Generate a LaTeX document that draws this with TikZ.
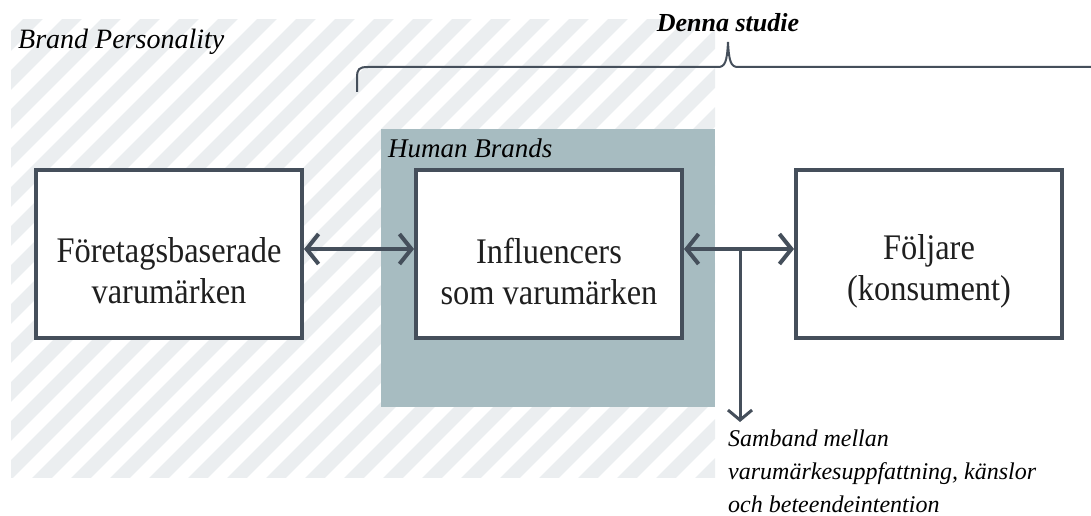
\documentclass[tikz,border=0pt]{standalone}
\usepackage{fontspec}
\setmainfont{Liberation Serif}
\newfontfamily\boxfont[FakeStretch=0.9]{Liberation Serif}
\usetikzlibrary{arrows.meta}
\definecolor{frame}{HTML}{454F5B}
\definecolor{stripe}{HTML}{EBEEF0}
\definecolor{teal}{HTML}{A7BCC1}
\tikzset{
  x=1pt,y=-1pt,
  box/.style={draw=frame,line width=4pt,fill=white,minimum width=266pt,minimum height=168pt},
  boxtext/.style={align=center,font=\boxfont\fontsize{36}{41}\selectfont,text=black!88,inner sep=0pt},
  conn/.style={draw=frame,line width=4pt,{Straight Barb[length=12pt,width=30pt,line width=4pt]}-{Straight Barb[length=12pt,width=30pt,line width=4pt]}},
  down/.style={draw=frame,line width=3pt,-{Straight Barb[length=10pt,width=24pt,line width=3pt]}},
  lbl/.style={font=\fontsize{28}{30}\selectfont\itshape,anchor=base west,inner sep=0pt}
}
\begin{document}
\begin{tikzpicture}
\useasboundingbox (0,0) rectangle (1091,516);
\clip (0,0) rectangle (1091,516);
% hatched region
\begin{scope}
\clip (11,20) rectangle (715,477);
\foreach \i in {-20,...,20} {
  \draw[stripe,line width=14pt] (\i*39,520) -- (\i*39+520,0);
}
\end{scope}
% teal region
\fill[teal] (381,129) rectangle (715,407);
% labels
\node[lbl] (bp) at (18,49) {Brand Personality};
\node[lbl,font=\fontsize{27}{30}\selectfont\itshape] (hb) at (388,157) {Human Brands};
\node[font=\fontsize{26}{30}\selectfont\bfseries\itshape,anchor=base,inner sep=0pt] (ds) at (728,32) {Denna studie};
% brace
\draw[frame,line width=2pt] (357,92) -- (357,78) .. controls (357,69) and (359,67) .. (368,67) -- (718,67) .. controls (725,67) and (727,62) .. (728,42) .. controls (729,62) and (731,67) .. (738,67) -- (1100,67);
% boxes
\node[box] (a) at (169,254) {};
\node[box] (b) at (549,254) {};
\node[box] (c) at (929,254) {};
\node[boxtext] (at) at ([yshift=-17pt]a.center) {Företagsbaserade\\varumärken};
\node[boxtext] (bt) at ([yshift=-17pt]b.center) {Influencers\\som varumärken};
\node[boxtext] (ct) at ([yshift=-17pt]c.center) {Följare\\(konsument)};
% connectors
\draw[conn] (a.east |- 0,249) -- (b.west |- 0,249);
\draw[conn] (b.east |- 0,249) -- (c.west |- 0,249);
\coordinate (j) at (740,249);
\coordinate (e) at (740,422);
\draw[down] (j) -- (e);
\node[font=\fontsize{24}{33}\selectfont\itshape,align=left,anchor=base west,inner sep=0pt] (s) at (728,512) {Samband mellan\\varumärkesuppfattning, känslor\\och beteendeintention};
\end{tikzpicture}
\end{document}
